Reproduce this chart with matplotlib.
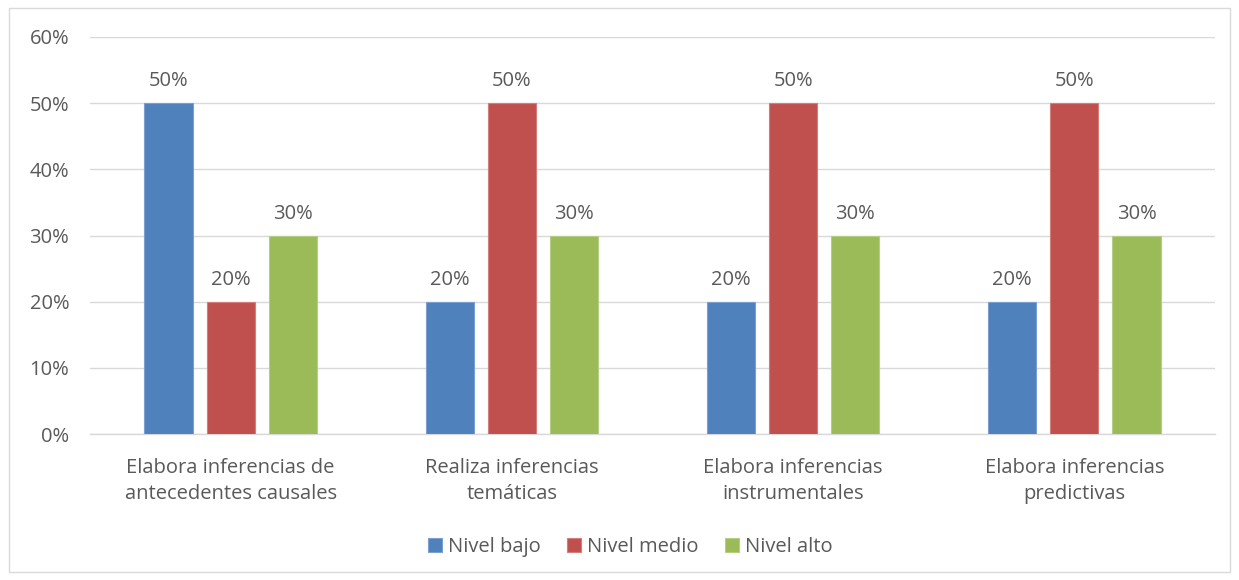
import matplotlib.pyplot as plt
import numpy as np
from matplotlib.patches import Rectangle

categorias = ["Elabora inferencias de\nantecedentes causales",
              "Realiza inferencias\ntemáticas",
              "Elabora inferencias\ninstrumentales",
              "Elabora inferencias\npredictivas"]
series = ["Nivel bajo", "Nivel medio", "Nivel alto"]
nivel_bajo = [50, 20, 20, 20]
nivel_medio = [20, 50, 50, 50]
nivel_alto = [30, 30, 30, 30]
colores = ["#4F81BD", "#C0504D", "#9BBB59"]
bordes = ["#7A9FD0", "#D47D7A", "#B4CF82"]

plt.rcParams['font.family'] = ['Open Sans', 'DejaVu Sans']
texto = "#595959"
fs = 14.5

fig = plt.figure(figsize=(12.39, 5.80), dpi=100)
ax = fig.add_axes([90 / 1239, 1 - 434 / 580, 1125 / 1239, 397 / 580])

# marco del gráfico
fig.patches.append(Rectangle((9 / 1239, 8 / 580), 1221 / 1239, 564 / 580,
                             transform=fig.transFigure, fill=False,
                             edgecolor="#D9D9D9", linewidth=1))

x = np.arange(len(categorias))
ancho = 0.171
paso = 0.221
for i, (vals, nombre) in enumerate(zip([nivel_bajo, nivel_medio, nivel_alto], series)):
    barras = ax.bar(x + (i - 1) * paso, vals, ancho, color=colores[i],
                    edgecolor=bordes[i], linewidth=0.8, label=nombre, zorder=3)
    for b, v in zip(barras, vals):
        ax.text(b.get_x() + b.get_width() / 2, v + 1.8, f"{v}%", ha="center",
                va="bottom", fontsize=fs, color=texto)

ax.set_xlim(-0.5, len(categorias) - 0.5)
ax.set_ylim(0, 60)
ax.set_yticks(range(0, 61, 10))
ax.set_yticklabels([f"{t}%" for t in range(0, 61, 10)], fontsize=fs, color=texto)
ax.set_xticks(x)
ax.set_xticklabels(categorias, fontsize=fs, color=texto, linespacing=1.4)
ax.tick_params(axis="both", length=0)
ax.tick_params(axis="y", pad=15)
ax.tick_params(axis="x", pad=17)
ax.grid(axis="y", color="#D9D9D9", linewidth=1, zorder=0)
for s in ["top", "right", "left"]:
    ax.spines[s].set_visible(False)
ax.spines["bottom"].set_color("#D9D9D9")
ax.spines["bottom"].set_linewidth(1)

leg = fig.legend(loc="center", bbox_to_anchor=(630 / 1239, 1 - 547 / 580), ncol=3,
                 frameon=False, fontsize=fs, handlelength=0.7, handleheight=0.7,
                 handletextpad=0.3, columnspacing=1.3)
for t in leg.get_texts():
    t.set_color(texto)

fig.savefig("out.png", dpi=100)
